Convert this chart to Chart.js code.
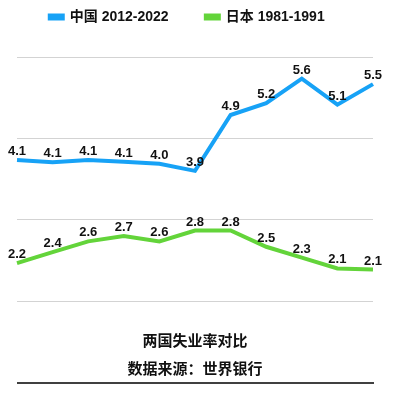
<!DOCTYPE html>
<html>
<head>
<meta charset="utf-8">
<script src="https://cdn.jsdelivr.net/npm/chart.js@4/dist/chart.umd.min.js"></script>
<style>
  body { margin: 0; background: #fff; }
  #wrap { width: 394px; height: 394px; }
</style>
</head>
<body>
<div id="wrap"><canvas id="unemp-chart"></canvas></div>
<script>
var labels = ["1", "2", "3", "4", "5", "6", "7", "8", "9", "10", "11"];
var chinaValues = [4.1, 4.06, 4.1, 4.07, 4.03, 3.9, 4.93, 5.15, 5.6, 5.12, 5.5];
var japanValues = [2.2, 2.4, 2.6, 2.7, 2.6, 2.8, 2.8, 2.5, 2.3, 2.1, 2.08];
var seriesNames = ["中国 2012-2022", "日本 1981-1991"];
var titleLines = ["两国失业率对比", "数据来源：世界银行"];

var FONT = "'Liberation Sans', 'Noto Sans CJK SC', sans-serif";

// draws the value above each point
const valueLabels = {
  id: "valueLabels",
  afterDatasetsDraw(chart) {
    const ctx = chart.ctx;
    ctx.save();
    ctx.font = "bold 13px " + FONT;
    ctx.fillStyle = "#111";
    ctx.textAlign = "center";
    ctx.textBaseline = "alphabetic";
    chart.data.datasets.forEach((ds, i) => {
      chart.getDatasetMeta(i).data.forEach((pt, j) => {
        ctx.fillText(ds.data[j].toFixed(1), pt.x, pt.y - 5);
      });
    });
    ctx.restore();
  },
};

// extra room between legend and plot
const legendGap = {
  id: "legendGap",
  afterInit(chart) {
    const legend = chart.legend;
    const fit = legend.fit;
    legend.fit = function () {
      fit.call(this);
      this.height += 23;
    };
  },
};

// black rule under the title
const bottomRule = {
  id: "bottomRule",
  afterDraw(chart) {
    const ctx = chart.ctx;
    const area = chart.chartArea;
    ctx.save();
    ctx.strokeStyle = "#000";
    ctx.lineWidth = 1.5;
    ctx.beginPath();
    ctx.moveTo(area.left, 383);
    ctx.lineTo(area.right + 1, 383);
    ctx.stroke();
    ctx.restore();
  },
};

const myChart = new Chart(document.getElementById("unemp-chart"), {
  type: "line",
  data: {
    labels: labels,
    datasets: [
      {
        label: seriesNames[0] + "       ",
        data: chinaValues,
        borderColor: "#17a2f6",
        backgroundColor: "#17a2f6",
        borderWidth: 4,
        pointRadius: 0,
        tension: 0,
        clip: false,
      },
      {
        label: seriesNames[1] + "    ",
        data: japanValues,
        borderColor: "#63d43a",
        backgroundColor: "#63d43a",
        borderWidth: 4,
        pointRadius: 0,
        tension: 0,
        clip: false,
      },
    ],
  },
  options: {
    responsive: true,
    maintainAspectRatio: false,
    animation: false,
    layout: {
      padding: { left: 17, right: 21, top: 0, bottom: 0 },
    },
    plugins: {
      tooltip: { enabled: false },
      legend: {
        position: "top",
        labels: {
          boxWidth: 13,
          boxHeight: 3,
          padding: 10,
          color: "#111",
          font: { size: 14, weight: "bold", family: FONT },
        },
      },
      title: {
        display: true,
        position: "bottom",
        text: titleLines,
        color: "#111",
        font: { size: 15, weight: "bold", family: FONT, lineHeight: "28px" },
        padding: { top: 27, bottom: 10 },
      },
    },
    scales: {
      x: {
        display: false,
      },
      y: {
        min: 1.5,
        max: 6,
        ticks: { display: false, stepSize: 1.5 },
        grid: { color: "#d3d3d3", lineWidth: 1, drawTicks: false },
        border: { display: false },
      },
    },
  },
  plugins: [valueLabels, legendGap, bottomRule],
});
</script>
</body>
</html>
